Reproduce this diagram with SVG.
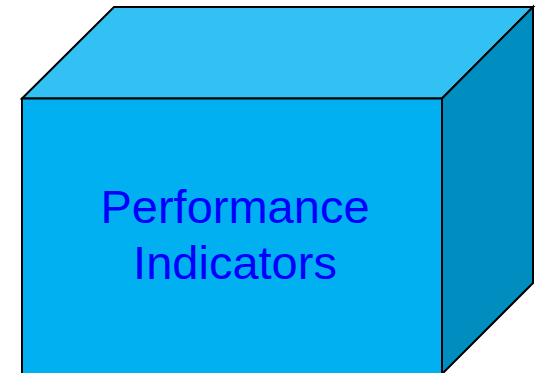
<svg xmlns="http://www.w3.org/2000/svg" width="536" height="373" viewBox="0 0 536 373">
<style>
.face{stroke:#000;stroke-width:2;stroke-linejoin:miter}
.lbl{font-family:"Liberation Sans",Arial,sans-serif;font-size:47px;fill:#0000FF;text-anchor:middle}
</style>
<rect width="536" height="373" fill="#fff"/>
<g id="box">
<polygon class="face" fill="#33C1F3" points="22,98.5 114,7 533,7 442,98.5"/>
<polygon class="face" fill="#008DC0" points="442,98.5 533,7 533,283 442,374"/>
<polygon class="face" fill="#00B0F0" points="22,98.5 442,98.5 442,374 22,374"/>
<text class="lbl" x="235" y="223">Performance</text>
<text class="lbl" x="235" y="279">Indicators</text>
</g>
</svg>
